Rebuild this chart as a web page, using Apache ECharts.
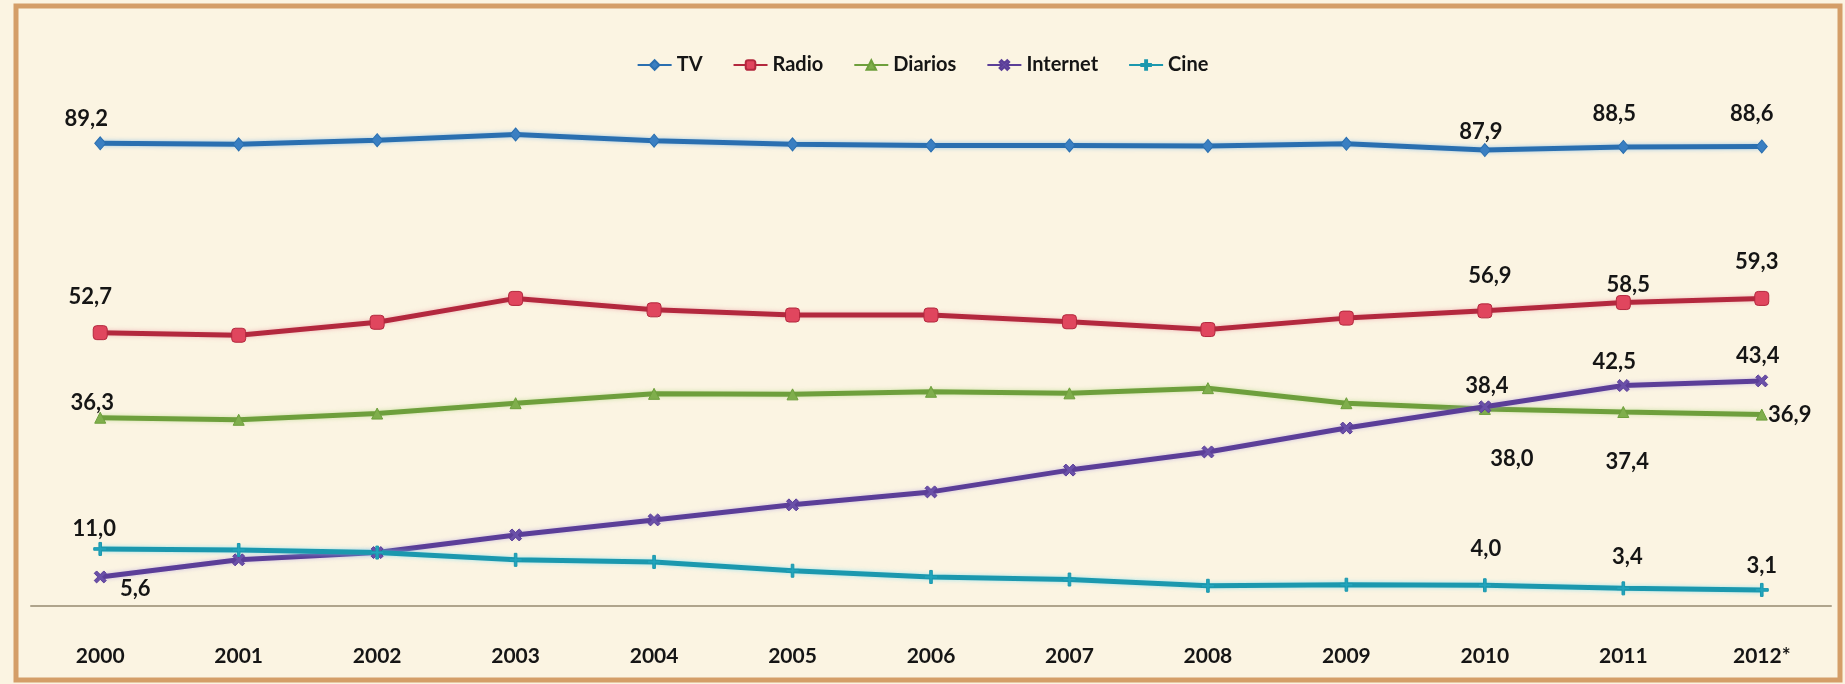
<!DOCTYPE html>
<html>
<head>
<meta charset="utf-8">
<script src="https://cdn.jsdelivr.net/npm/echarts@6/dist/echarts.min.js"></script>
<style>
html,body{margin:0;padding:0;background:#FBF4E2;}
#chart{width:1845px;height:684px;}
</style>
</head>
<body>
<div id="chart"></div>
<script>
// ---- data ----
const years = ['2000','2001','2002','2003','2004','2005','2006','2007','2008','2009','2010','2011','2012*'];
const seriesNames = ['TV','Radio','Diarios','Internet','Cine'];
const tv       = [89.2, 89.0, 89.8, 90.9, 89.7, 89.0, 88.8, 88.8, 88.7, 89.1, 87.9, 88.5, 88.6];
const radio    = [52.7, 52.2, 54.7, 59.3, 57.1, 56.1, 56.1, 54.8, 53.3, 55.5, 56.9, 58.5, 59.3];
const diarios  = [36.3, 35.9, 37.1, 39.1, 40.9, 40.8, 41.3, 41.0, 42.0, 39.1, 38.0, 37.4, 36.9];
const internet = [5.6, 8.9, 10.3, 13.7, 16.6, 19.5, 22.0, 26.2, 29.7, 34.3, 38.4, 42.5, 43.4];
const cine     = [11.0, 10.8, 10.3, 8.9, 8.5, 6.8, 5.6, 5.1, 3.9, 4.1, 4.0, 3.4, 3.1];
const labeledIdx = [0, 10, 11, 12];

// ---- styling (label offsets relative to marker) ----
const labelOffsets = {
  TV:       {0:[-14,-24], 10:[-4,-18], 11:[-9,-33], 12:[-10,-33]},
  Radio:    {0:[-10,-36], 10:[5,-35], 11:[5,-18], 12:[-5,-37]},
  Diarios:  {0:[-8,-15], 10:[27,50], 11:[4,50], 12:[28,0]},
  Internet: {0:[35,12], 10:[2,-21], 11:[-9,-24], 12:[-4,-25]},
  Cine:     {0:[-6,-20], 10:[1,-36], 11:[4,-31], 12:[0,-24]}
};
const styles = {
  TV:       {line:'#2A6FB0', fill:'#3A7FC2', glow:'rgba(120,180,230,0.7)', symbol:'diamond', size:[11,13]},
  Radio:    {line:'#B3283E', fill:'#E0465E', glow:'rgba(230,120,140,0.5)', symbol:'roundRect', size:14},
  Diarios:  {line:'#6E9F3C', fill:'#7FAE4C', glow:'rgba(170,210,120,0.6)', symbol:'triangle', size:11},
  Internet: {line:'#5B3E98', fill:'#6A50A8', glow:'rgba(170,150,220,0.6)', symbol:'path://M0,2 L2,0 L5,3 L8,0 L10,2 L7,5 L10,8 L8,10 L5,7 L2,10 L0,8 L3,5 Z', size:12},
  Cine:     {line:'#1B98AE', fill:'#22A4BC', glow:'rgba(120,220,240,0.7)', symbol:'path://M4,0 L6,0 L6,4 L10,4 L10,6 L6,6 L6,10 L4,10 L4,6 L0,6 L0,4 L4,4 Z', size:13}
};
const values = {TV: tv, Radio: radio, Diarios: diarios, Internet: internet, Cine: cine};

const fmt = v => v.toFixed(1).replace('.', ',');
const FONT = 'Lato, "Open Sans", sans-serif';

function buildSeries(name) {
  const st = styles[name];
  const data = values[name].map((v, i) => {
    const item = {value: v};
    if (labeledIdx.includes(i)) {
      item.label = {
        show: true, position: 'inside', offset: labelOffsets[name][i],
        formatter: p => fmt(p.value),
        color: '#151515', fontFamily: FONT, fontWeight: 'bold', fontSize: 22
      };
    }
    return item;
  });
  return {
    name: name, type: 'line', data: data,
    symbol: st.symbol, symbolSize: st.size, showAllSymbol: true,
    lineStyle: {color: st.line, width: 5, shadowColor: st.glow, shadowBlur: 4},
    itemStyle: {color: st.fill, borderColor: st.line, borderWidth: 1},
    label: {show: false},
    emphasis: {disabled: true},
    animation: false, z: 3
  };
}

const chart = echarts.init(document.getElementById('chart'), null, {renderer: 'canvas'});
chart.setOption({
  backgroundColor: '#FBF4E2',
  animation: false,
  color: seriesNames.map(n => styles[n].line),
  legend: {
    data: seriesNames,
    top: 50, left: 'center',
    itemWidth: 34, itemHeight: 12, itemGap: 30,
    textStyle: {fontFamily: FONT, fontWeight: 'bold', fontSize: 20, color: '#151515'}
  },
  grid: {left: 31, right: 14, top: 87.3, bottom: 78, containLabel: false},
  xAxis: {
    type: 'category', data: years, boundaryGap: true,
    axisLine: {lineStyle: {color: '#AFA48C', width: 2}},
    axisTick: {show: false},
    axisLabel: {margin: 40, fontFamily: FONT, fontWeight: 'bold', fontSize: 21, color: '#151515'},
    splitLine: {show: false}
  },
  yAxis: {type: 'value', min: 0, max: 100, show: false, splitLine: {show: false}},
  graphic: [{
    type: 'rect', shape: {x: 16, y: 6, width: 1824, height: 674},
    style: {fill: 'none', stroke: '#D49E68', lineWidth: 5}, z: 10, silent: true
  }],
  series: seriesNames.map(buildSeries)
});
</script>
</body>
</html>
